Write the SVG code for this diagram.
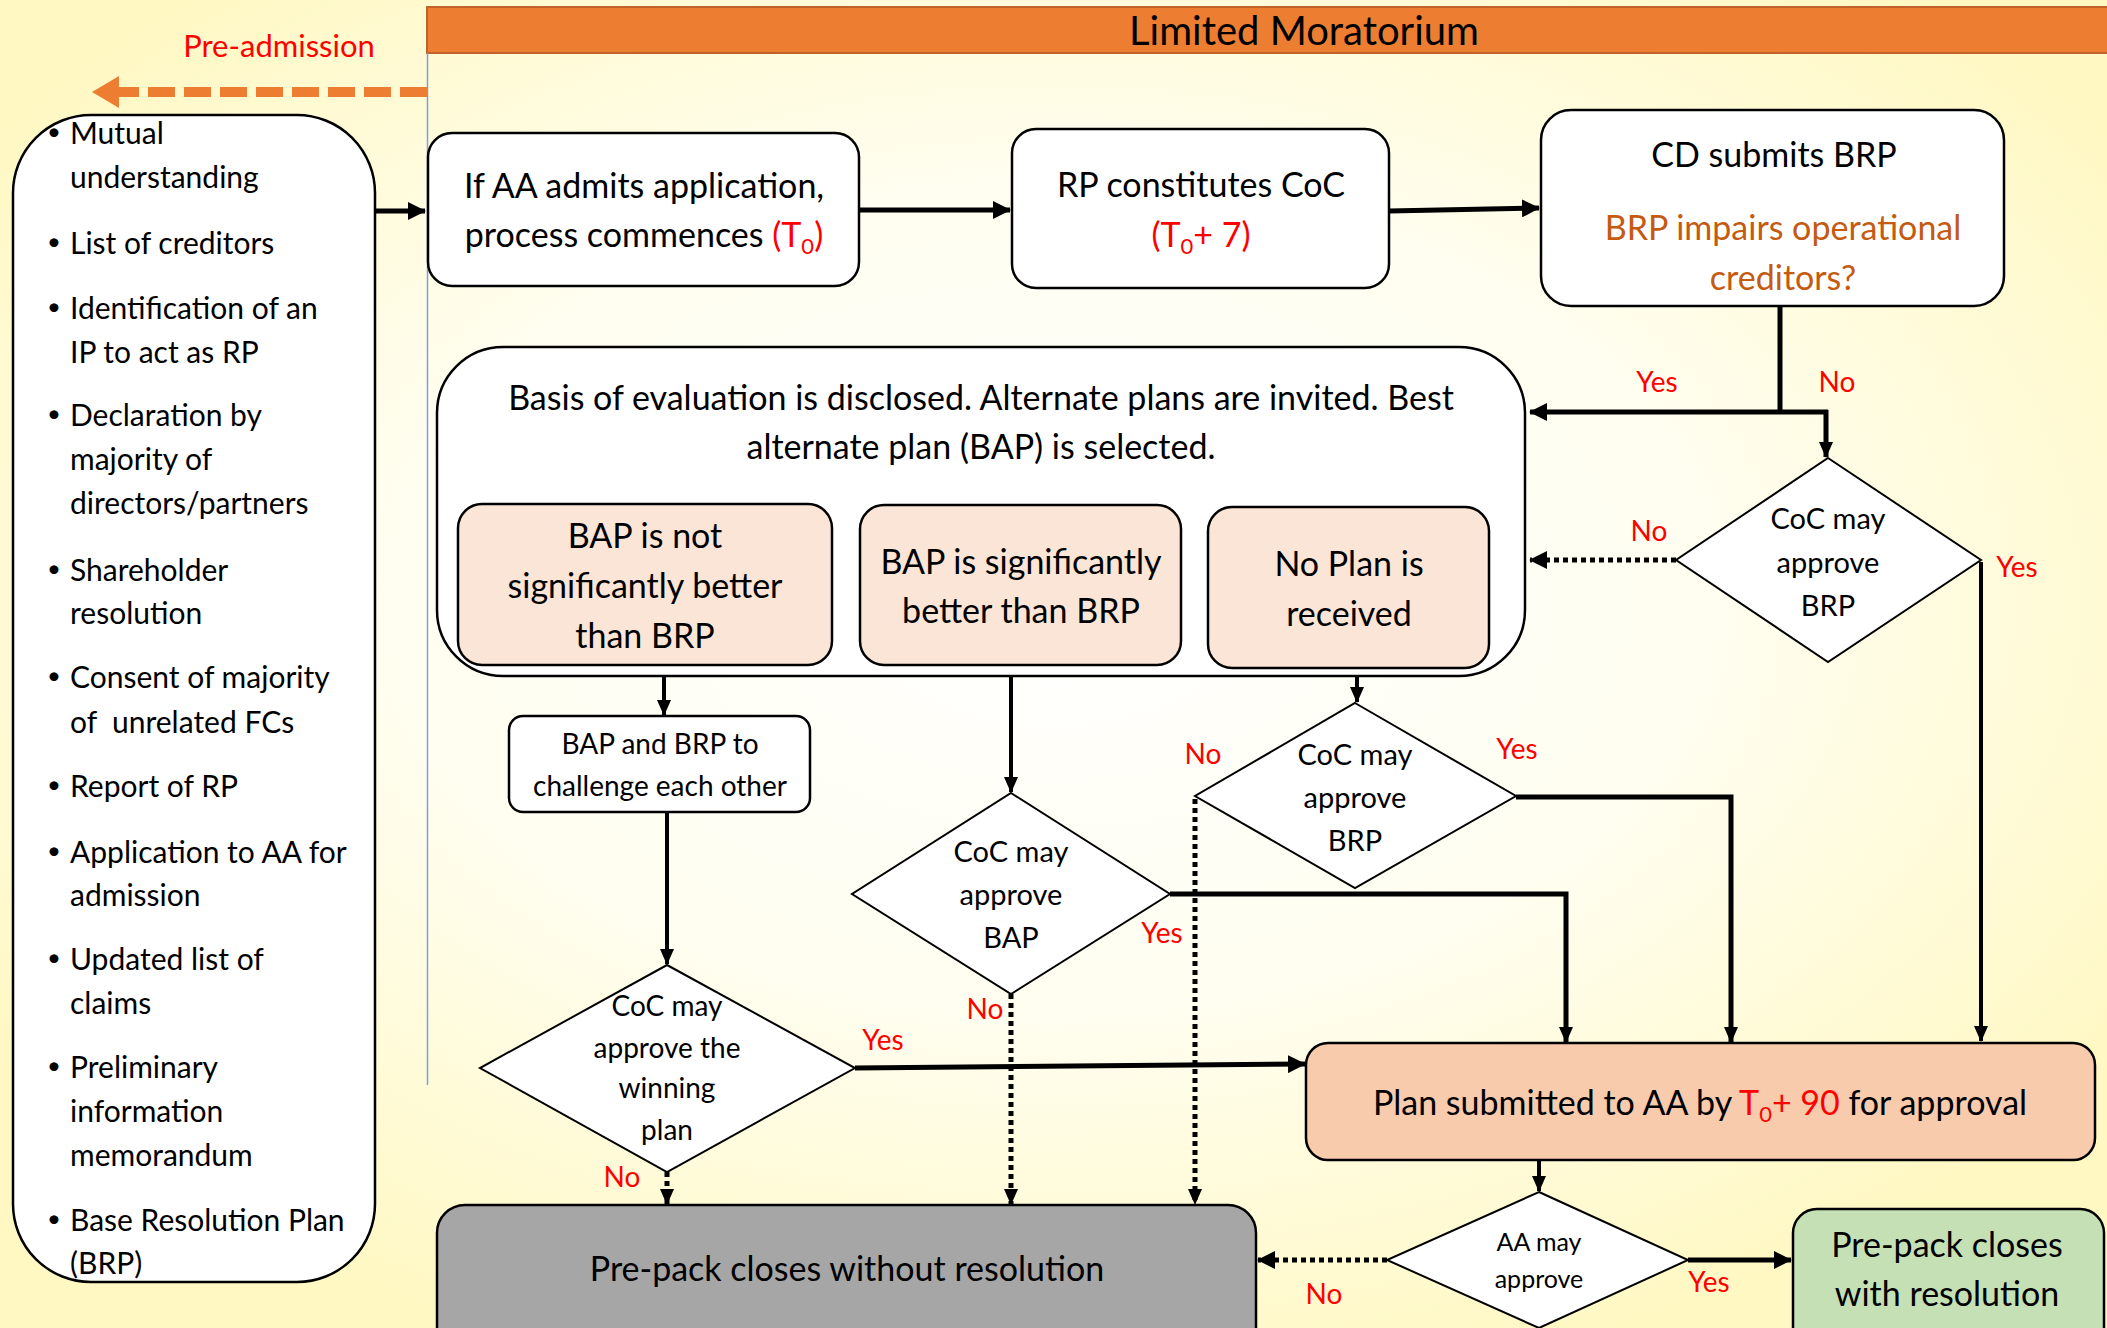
<svg xmlns="http://www.w3.org/2000/svg" width="2107" height="1328" viewBox="0 0 2107 1328">
<defs>
<radialGradient id="bg" cx="0.5" cy="0.45" r="0.62">
<stop offset="0" stop-color="#FFFFFF"/>
<stop offset="0.5" stop-color="#FFFEF0"/>
<stop offset="1" stop-color="#FFF8C2"/>
</radialGradient>
<marker id="ah" viewBox="0 0 16 14" refX="15" refY="7" markerWidth="16" markerHeight="14" markerUnits="userSpaceOnUse" orient="auto">
<path d="M0,0 L16,7 L0,14 z" fill="#000"/>
</marker>
<marker id="ahb" viewBox="0 0 18 18" refX="17" refY="9" markerWidth="18" markerHeight="18" markerUnits="userSpaceOnUse" orient="auto">
<path d="M0,0 L18,9 L0,18 z" fill="#000"/>
</marker>
<style>
text{font-family:Lato,"Open Sans","Liberation Sans",sans-serif;fill:#000}
.t34{font-size:34px;text-anchor:middle}
.t29{font-size:29px;text-anchor:middle}
.t28{font-size:28px;text-anchor:middle}
.t25{font-size:25px;text-anchor:middle}
.lst{font-size:30px}
.bul{font-size:24px}
.lbl{font-size:28px;fill:#FF0000;text-anchor:middle}
.red{fill:#FF0000}
.box{fill:#FFFFFF;stroke:#000;stroke-width:2.5}
.peach{fill:#FBE5D6;stroke:#000;stroke-width:2.5}
.dia{fill:#FFFFFF;stroke:#000;stroke-width:2}
.c{fill:none;stroke:#000;stroke-width:4}
.ck{fill:none;stroke:#000;stroke-width:5}
.dot{fill:none;stroke:#000;stroke-width:5;stroke-dasharray:5 4}
</style>
</defs>
<rect x="0" y="0" width="2107" height="1328" fill="url(#bg)"/>

<g id="banner">
<rect x="427" y="7" width="1682" height="46" fill="#ED7D31" stroke="#C0622A" stroke-width="2"/>
<text x="1304" y="45" style="font-size:40px;text-anchor:middle">Limited Moratorium</text>
</g>
<line x1="427.5" y1="53" x2="427.5" y2="1085" stroke="#7F9FDB" stroke-width="1.5"/>

<g id="pre-admission">
<text x="279" y="57" style="font-size:31px;text-anchor:middle;fill:#FF0000">Pre-admission</text>
</g>

<g id="connectors">
<path d="M427,92 H118" fill="none" stroke="#ED7D31" stroke-width="10" stroke-dasharray="27 9"/>
<path d="M92,92 L119,76 L119,108 z" fill="#ED7D31"/>
<path class="ck" d="M375,211 H425" marker-end="url(#ahb)"/>
<path class="ck" d="M859,210 H1010" marker-end="url(#ahb)"/>
<path class="ck" d="M1389,211 L1539,208" marker-end="url(#ahb)"/>
<path class="ck" d="M1780,306 V412"/>
<path class="ck" d="M1828,412 H1530" marker-end="url(#ahb)"/>
<path class="ck" d="M1826,410 V457" marker-end="url(#ah)"/>
<path class="dot" d="M1676,560 H1530" marker-end="url(#ahb)"/>
<path class="c" d="M1981,562 V1041" marker-end="url(#ah)"/>
<path class="c" d="M664,665 V715" marker-end="url(#ah)"/>
<path class="c" d="M667,812 V964" marker-end="url(#ah)"/>
<path class="ck" d="M855,1068 L1305,1064" marker-end="url(#ahb)"/>
<path class="dot" d="M667,1172 V1204" marker-end="url(#ah)"/>
<path class="c" d="M1011,665 V792" marker-end="url(#ah)"/>
<path class="ck" d="M1170,894 H1566 V1042" marker-end="url(#ah)"/>
<path class="dot" d="M1011,994 V1204" marker-end="url(#ah)"/>
<path class="c" d="M1357,668 V702" marker-end="url(#ah)"/>
<path class="ck" d="M1516,797 H1731 V1042" marker-end="url(#ah)"/>
<path class="dot" d="M1195,799 V1204" marker-end="url(#ah)"/>
<path class="c" d="M1539,1160 V1191" marker-end="url(#ah)"/>
<path class="ck" d="M1688,1260 H1791" stroke-width="7" marker-end="url(#ahb)"/>
<path class="dot" d="M1387,1260 H1258" marker-end="url(#ahb)"/>
</g>

<g id="labels">
<text class="lbl" x="1657" y="392">Yes</text>
<text class="lbl" x="1837" y="392">No</text>
<text class="lbl" x="1649" y="541">No</text>
<text class="lbl" x="2017" y="577">Yes</text>
<text class="lbl" x="1517" y="759">Yes</text>
<text class="lbl" x="1203" y="764">No</text>
<text class="lbl" x="1162" y="943">Yes</text>
<text class="lbl" x="985" y="1019">No</text>
<text class="lbl" x="883" y="1050">Yes</text>
<text class="lbl" x="622" y="1187">No</text>
<text class="lbl" x="1709" y="1292">Yes</text>
<text class="lbl" x="1324" y="1304">No</text>
</g>

<g id="prereq-list">
<rect class="box" x="13" y="115" width="362" height="1167" rx="78" ry="78"/>
<text class="lst"><tspan class="bul" x="47" y="140">•</tspan><tspan x="70" y="144">Mutual</tspan></text>
<text class="lst" x="70" y="188">understanding</text>
<text class="lst"><tspan class="bul" x="47" y="250">•</tspan><tspan x="70" y="254">List of creditors</tspan></text>
<text class="lst"><tspan class="bul" x="47" y="315">•</tspan><tspan x="70" y="319">Identification of an</tspan></text>
<text class="lst" x="70" y="363">IP to act as RP</text>
<text class="lst"><tspan class="bul" x="47" y="422">•</tspan><tspan x="70" y="426">Declaration by</tspan></text>
<text class="lst" x="70" y="470">majority of</text>
<text class="lst" x="70" y="514">directors/partners</text>
<text class="lst"><tspan class="bul" x="47" y="577">•</tspan><tspan x="70" y="581">Shareholder</tspan></text>
<text class="lst" x="70" y="624">resolution</text>
<text class="lst"><tspan class="bul" x="47" y="684">•</tspan><tspan x="70" y="688">Consent of majority</tspan></text>
<text class="lst" x="70" y="733" xml:space="preserve">of  unrelated FCs</text>
<text class="lst"><tspan class="bul" x="47" y="793">•</tspan><tspan x="70" y="797">Report of RP</tspan></text>
<text class="lst"><tspan class="bul" x="47" y="859">•</tspan><tspan x="70" y="863">Application to AA for</tspan></text>
<text class="lst" x="70" y="906">admission</text>
<text class="lst"><tspan class="bul" x="47" y="966">•</tspan><tspan x="70" y="970">Updated list of</tspan></text>
<text class="lst" x="70" y="1014">claims</text>
<text class="lst"><tspan class="bul" x="47" y="1074">•</tspan><tspan x="70" y="1078">Preliminary</tspan></text>
<text class="lst" x="70" y="1122">information</text>
<text class="lst" x="70" y="1166">memorandum</text>
<text class="lst"><tspan class="bul" x="47" y="1227">•</tspan><tspan x="70" y="1231">Base Resolution Plan</tspan></text>
<text class="lst" x="70" y="1274">(BRP)</text>
</g>

<g id="admit">
<rect class="box" x="428" y="133" width="431" height="153" rx="24"/>
<text class="t34" x="644" y="198">If AA admits application,</text>
<text class="t34" x="644" y="247">process commences <tspan class="red">(T</tspan><tspan class="red" style="font-size:22px" dy="7">0</tspan><tspan class="red" dy="-7">)</tspan></text>
</g>

<g id="constitute">
<rect class="box" x="1012" y="129" width="377" height="159" rx="24"/>
<text class="t34" x="1201" y="197">RP constitutes CoC</text>
<text class="t34" x="1201" y="247"><tspan class="red">(T</tspan><tspan class="red" style="font-size:22px" dy="7">0</tspan><tspan class="red" dy="-7">+ 7)</tspan></text>
</g>

<g id="brp">
<rect class="box" x="1541" y="110" width="463" height="196" rx="30"/>
<text class="t34" x="1774" y="167">CD submits BRP</text>
<text class="t34" x="1783" y="240" style="fill:#C55A11">BRP impairs operational</text>
<text class="t34" x="1783" y="290" style="fill:#C55A11">creditors?</text>
</g>

<g id="evaluation">
<rect class="box" x="437" y="347" width="1088" height="329" rx="66"/>
<text class="t34" x="981" y="410">Basis of evaluation is disclosed. Alternate plans are invited. Best</text>
<text class="t34" x="981" y="459">alternate plan (BAP) is selected.</text>
</g>

<g id="bap-not-better">
<rect class="peach" x="458" y="504" width="374" height="161" rx="24"/>
<text class="t34" x="645" y="548">BAP is not</text>
<text class="t34" x="645" y="598">significantly better</text>
<text class="t34" x="645" y="648">than BRP</text>
</g>

<g id="bap-better">
<rect class="peach" x="860" y="505" width="321" height="160" rx="24"/>
<text class="t34" x="1021" y="574">BAP is significantly</text>
<text class="t34" x="1021" y="623">better than BRP</text>
</g>

<g id="no-plan">
<rect class="peach" x="1208" y="507" width="281" height="161" rx="24"/>
<text class="t34" x="1349" y="576">No Plan is</text>
<text class="t34" x="1349" y="626">received</text>
</g>

<g id="challenge">
<rect class="box" x="509" y="716" width="301" height="96" rx="14"/>
<text class="t28" x="660" y="754">BAP and BRP to</text>
<text class="t28" x="660" y="796">challenge each other</text>
</g>

<g id="coc-brp-right">
<polygon class="dia" points="1828,458 1981,560 1828,662 1676,560"/>
<text class="t29" x="1828" y="529">CoC may</text>
<text class="t29" x="1828" y="573">approve</text>
<text class="t29" x="1828" y="616">BRP</text>
</g>

<g id="coc-brp-mid">
<polygon class="dia" points="1355,703 1516,796 1355,888 1195,796"/>
<text class="t29" x="1355" y="765">CoC may</text>
<text class="t29" x="1355" y="808">approve</text>
<text class="t29" x="1355" y="851">BRP</text>
</g>

<g id="coc-bap">
<polygon class="dia" points="1011,793 1170,894 1011,994 852,894"/>
<text class="t29" x="1011" y="862">CoC may</text>
<text class="t29" x="1011" y="905">approve</text>
<text class="t29" x="1011" y="948">BAP</text>
</g>

<g id="coc-winning">
<polygon class="dia" points="667,965 855,1068 667,1172 480,1068"/>
<text class="t28" x="667" y="1016">CoC may</text>
<text class="t28" x="667" y="1058">approve the</text>
<text class="t28" x="667" y="1098">winning</text>
<text class="t28" x="667" y="1140">plan</text>
</g>

<g id="plan-submitted">
<rect x="1306" y="1043" width="789" height="117" rx="22" fill="#F8CBAD" stroke="#000" stroke-width="2.5"/>
<text class="t34" x="1700" y="1115">Plan submitted to AA by <tspan class="red">T</tspan><tspan class="red" style="font-size:22px" dy="7">0</tspan><tspan class="red" dy="-7">+ 90</tspan> for approval</text>
</g>

<g id="aa-approve">
<polygon class="dia" points="1539,1192 1688,1260 1539,1328 1387,1260"/>
<text class="t25" x="1539" y="1251">AA may</text>
<text class="t25" x="1539" y="1288">approve</text>
</g>

<g id="closes-without">
<rect x="437" y="1205" width="819" height="150" rx="28" fill="#A6A6A6" stroke="#000" stroke-width="2.5"/>
<text class="t34" x="847" y="1281">Pre-pack closes without resolution</text>
</g>

<g id="closes-with">
<rect x="1793" y="1209" width="311" height="150" rx="24" fill="#C5E0B4" stroke="#000" stroke-width="2.5"/>
<text class="t34" x="1947" y="1257">Pre-pack closes</text>
<text class="t34" x="1947" y="1306">with resolution</text>
</g>
</svg>
